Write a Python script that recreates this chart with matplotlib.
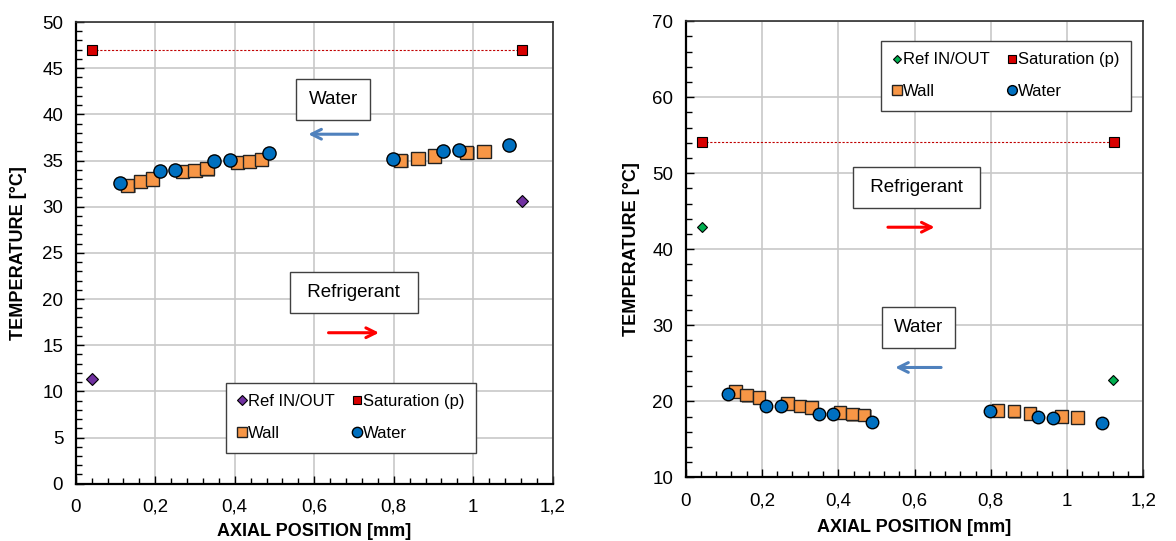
import matplotlib
matplotlib.use("Agg")
import matplotlib.pyplot as plt
from matplotlib.ticker import MultipleLocator, FuncFormatter
import matplotlib.patheffects as pe

plt.rcParams['font.family'] = ['Liberation Sans', 'DejaVu Sans']

# ---- Left panel data ----
L_ref_x = [0.042, 1.122]
L_ref_y = [11.3, 30.6]
L_sat_x = [0.042, 1.122]
L_sat_y = [47.0, 47.0]
L_wall_x = [0.131, 0.162, 0.193, 0.269, 0.300, 0.330, 0.406, 0.437, 0.468,
            0.818, 0.861, 0.903, 0.984, 1.027]
L_wall_y = [32.3, 32.7, 33.0, 33.8, 33.9, 34.1, 34.8, 34.9, 35.1,
            35.0, 35.2, 35.5, 35.9, 36.0]
L_water_x = [0.111, 0.212, 0.250, 0.349, 0.388, 0.487, 0.797, 0.925, 0.963, 1.091]
L_water_y = [32.6, 33.9, 34.0, 34.9, 35.1, 35.8, 35.2, 36.0, 36.1, 36.7]

# ---- Right panel data ----
R_ref_x = [0.042, 1.121]
R_ref_y = [42.9, 22.8]
R_sat_x = [0.042, 1.122]
R_sat_y = [54.1, 54.1]
R_wall_x = [0.131, 0.160, 0.192, 0.267, 0.300, 0.330, 0.405, 0.437, 0.468,
            0.819, 0.861, 0.903, 0.985, 1.027]
R_wall_y = [21.3, 20.8, 20.5, 19.7, 19.4, 19.2, 18.5, 18.3, 18.2,
            18.8, 18.7, 18.4, 18.0, 17.9]
R_water_x = [0.111, 0.211, 0.249, 0.350, 0.387, 0.488, 0.797, 0.925, 0.963, 1.091]
R_water_y = [21.0, 19.4, 19.4, 18.3, 18.3, 17.3, 18.7, 17.9, 17.8, 17.2]

C_WATER = '#0070C0'
C_WALL = '#F79646'
C_SAT = '#D80000'
C_ARROW_BLUE = '#4F81BD'
C_ARROW_RED = '#FF0000'

fig = plt.figure(figsize=(11.76, 5.41), dpi=100)
axL = fig.add_axes([0.0644, 0.1059, 0.4056, 0.8534])
axR = fig.add_axes([0.5831, 0.1177, 0.3891, 0.8431])

comma = FuncFormatter(lambda v, p: ('%g' % round(v, 6)).replace('.', ','))
shadow = [pe.withSimplePatchShadow(offset=(0.8, -0.8), shadow_rgbFace='#3a2a1a', alpha=0.5)]


def draw_panel(ax, ref_x, ref_y, ref_color, sat_x, sat_y, wall_x, wall_y,
               water_x, water_y, ylim, ymajor, yminor, ms, ylabelpad, xlabelpad):
    ax.plot(sat_x, sat_y, linestyle=(0, (2, 1.5)), color='#C00000', lw=0.8, zorder=2)
    ax.plot(ref_x, ref_y, linestyle='none', marker='D', ms=ms * 0.62, mfc=ref_color,
            mec='black', mew=0.8, zorder=4, label='Ref IN/OUT')
    ax.plot(sat_x, sat_y, linestyle='none', marker='s', ms=ms * 0.82, mfc=C_SAT,
            mec='black', mew=0.8, zorder=4, label='Saturation (p)')
    ax.plot(wall_x, wall_y, linestyle='none', marker='s', ms=ms, mfc=C_WALL,
            mec='#222222', mew=1.0, zorder=4, label='Wall', path_effects=shadow)
    ax.plot(water_x, water_y, linestyle='none', marker='o', ms=ms, mfc=C_WATER,
            mec='black', mew=1.0, zorder=5, label='Water')

    ax.set_xlim(0, 1.2)
    ax.set_ylim(*ylim)
    ax.xaxis.set_major_locator(MultipleLocator(0.2))
    ax.xaxis.set_minor_locator(MultipleLocator(0.04))
    ax.yaxis.set_major_locator(MultipleLocator(ymajor))
    ax.yaxis.set_minor_locator(MultipleLocator(yminor))
    ax.xaxis.set_major_formatter(comma)
    ax.grid(True, which='major', color='#C8C8C8', lw=1.2, zorder=0)
    ax.set_axisbelow(True)
    ax.tick_params(which='both', direction='in', labelsize=13.5, colors='black',
                   top=False, right=False)
    ax.tick_params(which='major', length=6, width=1.0, pad=9)
    ax.tick_params(which='minor', length=4, width=1.0)
    ax.tick_params(axis='x', pad=11)
    for side in ['left', 'bottom']:
        ax.spines[side].set_linewidth(1.6)
        ax.spines[side].set_color('black')
    for side in ['top', 'right']:
        ax.spines[side].set_linewidth(1.2)
        ax.spines[side].set_color('#303030')
    ax.set_xlabel('AXIAL POSITION [mm]', fontsize=13, fontweight='bold', labelpad=xlabelpad)
    ax.set_ylabel('TEMPERATURE [°C]', fontsize=13, fontweight='bold', labelpad=ylabelpad)


def text_box(ax, x, y, s):
    ax.text(x, y, s, fontsize=13.5, ha='center', va='center', zorder=6,
            bbox=dict(boxstyle='square,pad=0.65', fc='white', ec='#404040', lw=1.0))


def arrow(ax, x0, x1, y, color):
    ax.annotate('', xy=(x1, y), xytext=(x0, y), zorder=6,
                arrowprops=dict(arrowstyle='->,head_length=0.7,head_width=0.35',
                                color=color, lw=2.2))


draw_panel(axL, L_ref_x, L_ref_y, '#7030A0', L_sat_x, L_sat_y, L_wall_x, L_wall_y,
           L_water_x, L_water_y, (0, 50), 5, 1, 9.5, 11, 5)
draw_panel(axR, R_ref_x, R_ref_y, '#00B050', R_sat_x, R_sat_y, R_wall_x, R_wall_y,
           R_water_x, R_water_y, (10, 70), 10, 2, 9.0, 9, 7)

text_box(axL, 0.648, 41.6, 'Water')
arrow(axL, 0.716, 0.578, 37.85, C_ARROW_BLUE)
text_box(axL, 0.700, 20.7, ' Refrigerant ')
arrow(axL, 0.629, 0.770, 16.35, C_ARROW_RED)

text_box(axR, 0.605, 48.15, ' Refrigerant ')
arrow(axR, 0.523, 0.660, 42.9, C_ARROW_RED)
text_box(axR, 0.610, 29.7, 'Water')
arrow(axR, 0.677, 0.542, 24.45, C_ARROW_BLUE)

# legend rows: (Ref IN/OUT, Saturation) / (Wall, Water)
for ax, anchor in [(axL, (0.315, 0.219)), (axR, (0.4275, 0.957))]:
    handles, labels = ax.get_legend_handles_labels()
    order = [0, 2, 1, 3]
    leg = ax.legend([handles[i] for i in order], [labels[i] for i in order], ncol=2,
                    loc='upper left', bbox_to_anchor=anchor, fontsize=12,
                    markerscale=0.78, handlelength=0.5, handletextpad=0.1,
                    columnspacing=1.1, labelspacing=1.0, borderpad=0.7,
                    borderaxespad=0, fancybox=False, framealpha=1, edgecolor='#404040')
    leg.get_frame().set_linewidth(1.0)
    leg.set_zorder(7)
    for h in leg.legend_handles:
        h.set_path_effects([])

fig.savefig('out.png', dpi=100)
